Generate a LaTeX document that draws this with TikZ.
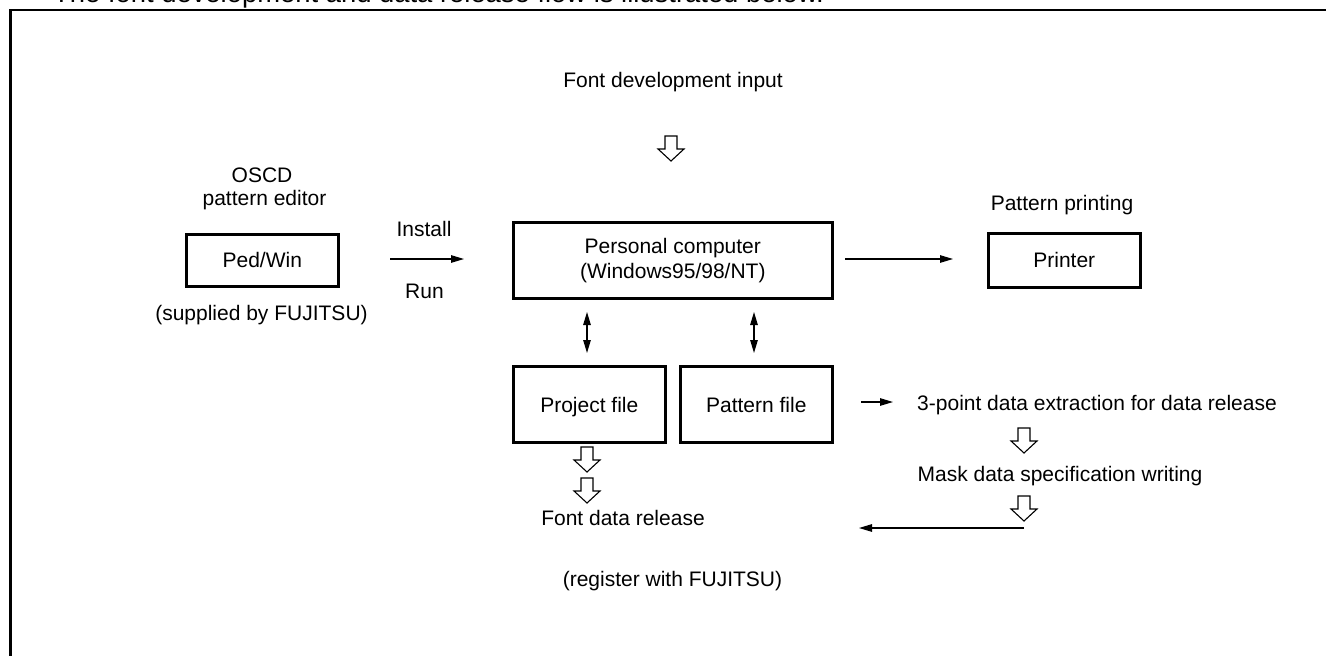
\documentclass[tikz,border=0pt]{standalone}
\usepackage{fontspec}
\setmainfont{Liberation Sans}
\usetikzlibrary{arrows.meta}
\tikzset{
  x=1pt,y=-1pt,
  every node/.style={font=\fontsize{21}{25}\selectfont,inner sep=0pt},
  box/.style={draw=black,line width=2.6pt,anchor=north west,align=center},
  onebox/.style={box,text height=15pt,text depth=0pt},
  lab/.style={anchor=base,align=center},
  conn/.style={draw=black,line width=1.2pt,-{Stealth[length=13pt,width=7.5pt,inset=0pt]}},
  biconn/.style={draw=black,line width=1.2pt,{Stealth[length=13pt,width=7.5pt,inset=0pt]}-{Stealth[length=13pt,width=7.5pt,inset=0pt]}},
  hollow/.style={draw=black,line width=1.1pt,fill=white,line join=miter},
  frameline/.style={draw=black,line width=2.4pt}
}
\newcommand{\hollowarrow}[2]{% centre x, top y
  \draw[hollow] (#1-6,#2) -- (#1+6,#2) -- (#1+6,#2+13) -- (#1+13,#2+13) -- (#1,#2+25) -- (#1-13,#2+13) -- (#1-6,#2+13) -- cycle;}
\begin{document}
\begin{tikzpicture}
\useasboundingbox (0,0) rectangle (1326,656);
\clip (0,0) rectangle (1326,656);
\fill[white] (0,0) rectangle (1326,656);
\node[anchor=base west,font=\fontsize{27.4}{31}\selectfont] (title) at (53,2) {The font development and data release flow is illustrated below.};
\coordinate (fbl) at (10.3,656);
\coordinate (ftl) at (10.3,10);
\coordinate (ftr) at (1326,10);
\draw[frameline] (fbl) -- (ftl) -- (ftr);
\node[lab] (input) at (673,87) {Font development input};
\hollowarrow{671}{136}
\node[lab] (oscd) at (262,182.7) {OSCD};
\node[lab] (ped) at (264.5,205) {pattern editor};
\node[onebox,minimum width=152pt,minimum height=52pt] (pedbox) at (185,233) {Ped/Win};
\node[lab] (supp) at (261.5,320) {(supplied by FUJITSU)};
\node[lab] (install) at (424,236.7) {Install};
\node[lab] (run) at (424.5,298) {Run};
\node[box,minimum width=319pt,minimum height=76pt] (pc) at (512,221) {Personal computer\\(Windows95/98/NT)};
\node[lab] (pp) at (1062,210) {Pattern printing};
\node[onebox,minimum width=152pt,minimum height=54pt] (printer) at (987,232) {Printer};
\node[onebox,text height=17pt,minimum width=152pt,minimum height=76pt] (proj) at (512,365) {Project file};
\node[onebox,text height=17pt,minimum width=152pt,minimum height=76pt] (pat) at (679,365) {Pattern file};
\node[lab] (ext) at (1097,410) {3-point data extraction for data release};
\node[lab] (mask) at (1060,481.7) {Mask data specification writing};
\node[lab] (rel) at (623,525.7) {Font data release};
\node[lab] (reg) at (672.5,586.7) {(register with FUJITSU)};
\coordinate (i1) at (390,259);
\coordinate (i2) at (464,259);
\draw[conn] (i1) -- (i2);
\coordinate (p1) at (845,259);
\coordinate (p2) at (953,259);
\draw[conn] (p1) -- (p2);
\coordinate (d1a) at (587,312);
\coordinate (d1b) at (587,353);
\draw[biconn] (d1a) -- (d1b);
\coordinate (d2a) at (754,312);
\coordinate (d2b) at (754,353);
\draw[biconn] (d2a) -- (d2b);
\coordinate (e1) at (861,402);
\coordinate (e2) at (893,402);
\draw[conn] (e1) -- (e2);
\coordinate (m1) at (1024,528);
\coordinate (m2) at (859,528);
\draw[conn] (m1) -- (m2);
\hollowarrow{587}{447}
\hollowarrow{587}{478}
\hollowarrow{1024}{428}
\hollowarrow{1024}{496}
\end{tikzpicture}
\end{document}
